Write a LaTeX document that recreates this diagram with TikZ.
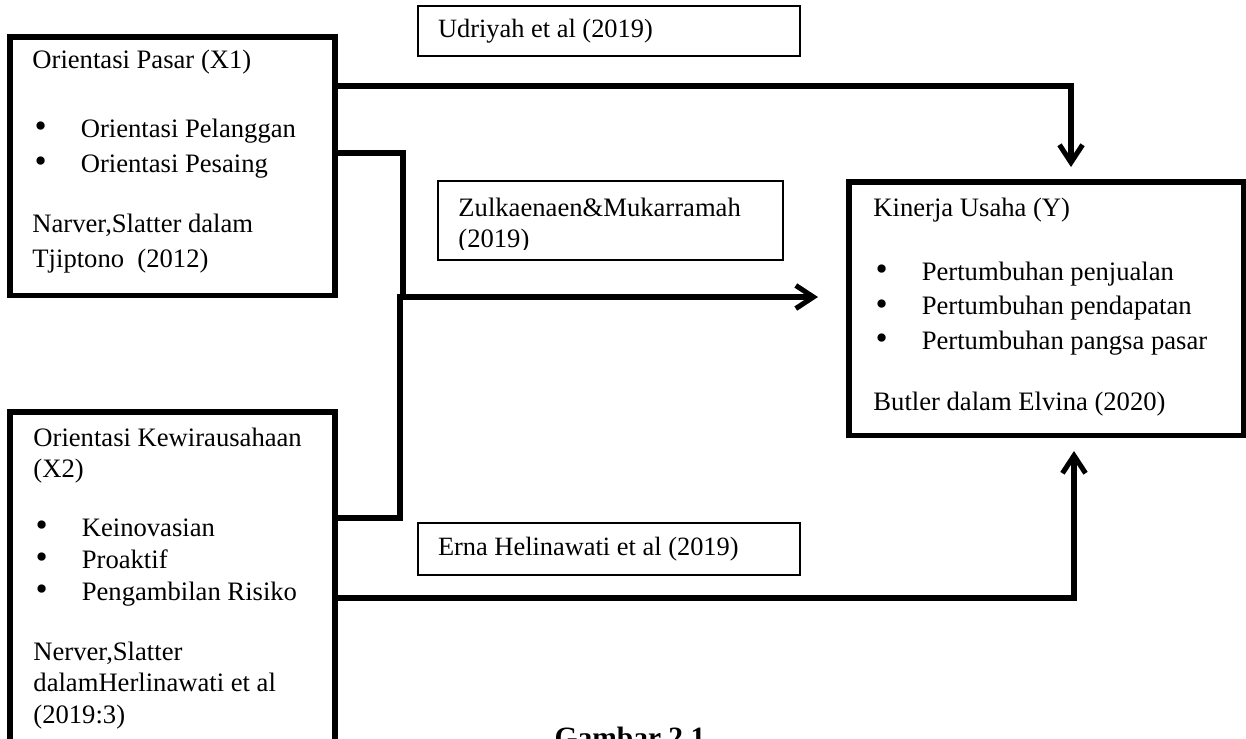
\documentclass[tikz,border=0pt]{standalone}
\usepackage{fontspec}
\usepackage{graphicx}
\setmainfont{Liberation Serif}
\usetikzlibrary{arrows.meta}
\def\pxu{0.4545pt}
\newcommand\bul[1]{\makebox[22pt][l]{\hspace{1.0pt}\raisebox{-0.35pt}{\scalebox{1.3}{\textbullet}}}#1}
\begin{document}
\begin{tikzpicture}[x=\pxu, y=-\pxu,
  bigbox/.style={draw, line width=2.3pt, rectangle, outer sep=0pt, inner sep=0pt, anchor=north west},
  citebox/.style={draw, line width=0.6pt, rectangle, outer sep=0pt, anchor=north west, align=flush left,
     inner ysep=0pt, inner xsep=9.1pt, text width=155.4pt, font=\fontsize{12}{14.5}\selectfont},
  txt/.style={anchor=base west, inner sep=0pt, align=flush left, text width=165pt},
  conn/.style={line width=2.3pt},
  arr/.style={conn, -{Straight Barb[length=8pt,width=10.5pt]}}]
\useasboundingbox (0,0) rectangle (1246,738);
\clip (0,0) rectangle (1246,738);

% main boxes
\node[bigbox, minimum width=147.7pt, minimum height=117.3pt] (box1) at (10,37) {};
\node[bigbox, minimum width=147.7pt, minimum height=181.8pt] (box2) at (10,412) {};
\node[bigbox, minimum width=179.1pt, minimum height=115.0pt] (boxY) at (849,182) {};

% box texts
\node[txt, font=\fontsize{12.1}{15.9}\selectfont] (t1) at (32,68)
  {Orientasi Pasar (X1)\\[15.5pt]
   \bul{Orientasi Pelanggan}\\
   \bul{Orientasi Pesaing}\\[11.4pt]
   Narver,Slatter dalam\\
   Tjiptono\ \ (2012)};
\node[txt, font=\fontsize{12.1}{14.5}\selectfont] (t2) at (33,446)
  {Orientasi Kewirausahaan\\
   (X2)\\[12pt]
   \bul{Keinovasian}\\
   \bul{Proaktif}\\
   \bul{Pengambilan Risiko}\\[12.8pt]
   Nerver,Slatter\\
   dalamHerlinawati et al\\
   (2019:3)};
\node[txt, font=\fontsize{12.1}{15.7}\selectfont] (tY) at (873,216)
  {Kinerja Usaha (Y)\\[13.4pt]
   \bul{Pertumbuhan penjualan}\\
   \bul{Pertumbuhan pendapatan}\\
   \bul{Pertumbuhan pangsa pasar}\\[12.0pt]
   Butler dalam Elvina (2020)};

% citation boxes
\node[citebox, minimum height=22.7pt] (udr) at (418,6) {Udriyah et al (2019)};
\node[citebox, minimum height=23.6pt] (erna) at (418,523) {Erna Helinawati et al (2019)};
\node[draw, line width=0.6pt, rectangle, outer sep=0pt, inner sep=0pt, anchor=north west,
      minimum width=156.8pt, minimum height=35.9pt] (zul) at (438,181) {};
\begin{scope}
  \clip (438,181) rectangle (783,249.5);
  \node[txt, font=\fontsize{12.1}{14.5}\selectfont] (tz) at (458,216)
    {Zulkaenaen\&Mukarramah\\(2019)};
\end{scope}

% connector end points
\coordinate (tipA) at (1071,167);
\coordinate (j1) at (403,297);
\coordinate (j2) at (400,297);
\coordinate (tipB) at (818,297);
\coordinate (tipC) at (1074,451);

% connectors
\draw[arr] (box1.east |- 0,86) -| (tipA);
\draw[conn] (box1.east |- 0,153) -| (j1);
\draw[arr] (box2.east |- 0,518) -| (j2) -- (tipB);
\draw[arr] (box2.east |- 0,598) -| (tipC);

% caption (cut off at bottom, as in the reference)
\node[anchor=base, inner sep=0pt, font=\fontsize{13.4}{15}\selectfont\bfseries] (cap) at (630,747) {Gambar 2.1};
\end{tikzpicture}
\end{document}
